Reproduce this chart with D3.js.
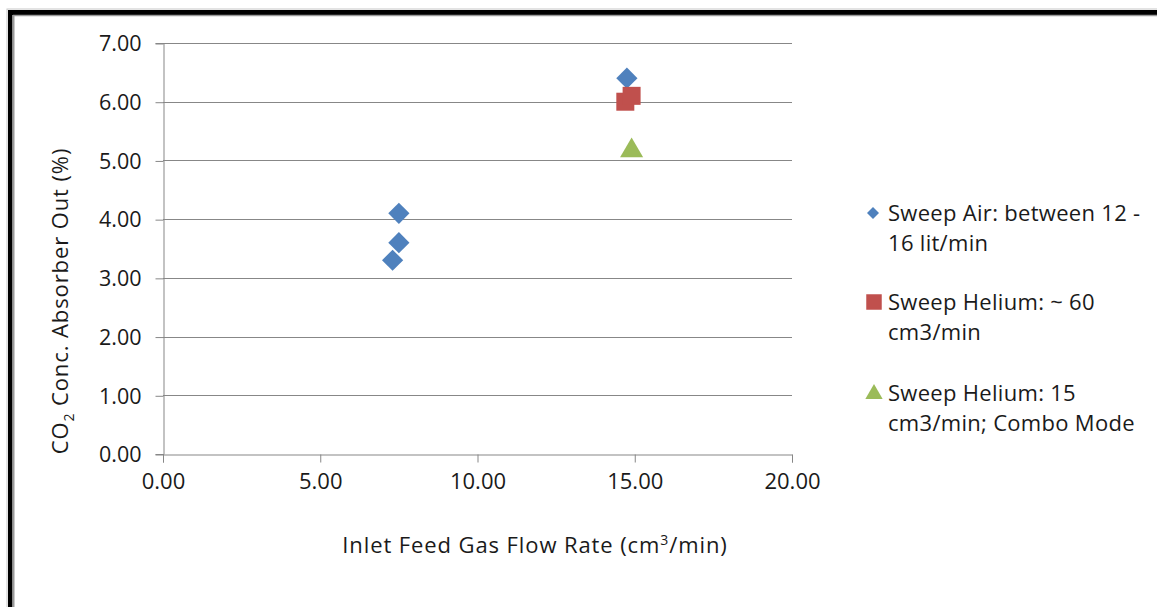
<!DOCTYPE html>
<html>
<head>
<meta charset="utf-8">
<script src="https://cdn.jsdelivr.net/npm/d3@7"></script>
<style>
  html, body { margin: 0; padding: 0; background: #fff; }
  svg { display: block; }
  text { font-family: "Open Sans", sans-serif; fill: #1a1a1a; }
</style>
</head>
<body>
<div id="chart"></div>
<script>
// --- data ---
const airX = [7.5, 7.5, 7.3, 14.75]
const airY = [4.1, 3.6, 3.3, 6.4]
const heliumX = [14.7, 14.9]
const heliumY = [6.0, 6.1]
const comboX = [14.9]
const comboY = [5.2]

const xTicks = [0, 5, 10, 15, 20]
const yTicks = [0, 1, 2, 3, 4, 5, 6, 7]

const seriesNames = [
  ['Sweep Air: between 12 -', '16 lit/min'],
  ['Sweep Helium: ~ 60', 'cm3/min'],
  ['Sweep Helium: 15', 'cm3/min; Combo Mode']
]
const seriesColors = ['#4F81BD', '#C0504D', '#9BBB59']

const width = 1157
const height = 607
const margin = {left: 163, right: 365, top: 43, bottom: 153}

const svg = d3.select('#chart').append('svg')
  .attr('width', width)
  .attr('height', height)

// --- frame (top and left border only) ---
svg.append('rect').attr('x', 7).attr('y', 9).attr('width', width).attr('height', height)
  .attr('fill', 'none').attr('stroke', '#c8c8c8').attr('stroke-width', 1)
svg.append('rect').attr('x', 8).attr('y', 10).attr('width', 4.5).attr('height', height)
  .attr('fill', '#000')
svg.append('rect').attr('x', 8).attr('y', 10).attr('width', width).attr('height', 5)
  .attr('fill', '#000')
svg.append('line').attr('x1', 13.5).attr('x2', 13.5).attr('y1', 15).attr('y2', height)
  .attr('stroke', '#9a9a9a').attr('stroke-width', 2)
svg.append('line').attr('x1', 13).attr('x2', width).attr('y1', 15.5).attr('y2', 15.5)
  .attr('stroke', '#9a9a9a').attr('stroke-width', 1.5)

const x = d3.scaleLinear().domain([0, 20]).range([margin.left, width - margin.right])
const y = d3.scaleLinear().domain([0, 7]).range([height - margin.bottom, margin.top])

const gridColor = '#878787'

// --- gridlines ---
svg.append('g')
  .selectAll('line')
  .data(yTicks.filter(d => d > 0))
  .join('line')
    .attr('x1', x(0)).attr('x2', x(20))
    .attr('y1', d => Math.round(y(d)) + 0.5).attr('y2', d => Math.round(y(d)) + 0.5)
    .attr('stroke', gridColor).attr('stroke-width', 1)

// --- axes ---
const yAxis = svg.append('g')
  .attr('transform', `translate(${Math.round(x(0)) + 0.5},0)`)
  .call(d3.axisLeft(y).tickValues(yTicks).tickSize(8).tickPadding(14).tickFormat(d3.format('.2f')))
yAxis.select('.domain').attr('stroke', gridColor)
yAxis.selectAll('.tick line').attr('stroke', gridColor)
  .attr('transform', 'translate(0,0.5)')
yAxis.selectAll('.tick text')
  .style('font-size', '21.5px').style('font-family', '"Open Sans", sans-serif').attr('fill', '#1a1a1a')
  .attr('dy', '0.36em')

const xAxis = svg.append('g')
  .attr('transform', `translate(0,${Math.round(y(0)) + 0.5})`)
  .call(d3.axisBottom(x).tickValues(xTicks).tickSize(8).tickPadding(11).tickFormat(d3.format('.2f')))
xAxis.select('.domain').attr('stroke', gridColor)
xAxis.selectAll('.tick line').attr('stroke', gridColor)
xAxis.selectAll('.tick text')
  .style('font-size', '22px').style('font-family', '"Open Sans", sans-serif').attr('fill', '#1a1a1a')

// --- axis titles ---
svg.append('text')
  .attr('x', 535).attr('y', 553)
  .attr('text-anchor', 'middle')
  .style('font-size', '22px')
  .style('letter-spacing', '0.9px')
  .html('Inlet Feed Gas Flow Rate (cm<tspan dy="-8" font-size="14">3</tspan><tspan dy="8">/min)</tspan>')

svg.append('text')
  .attr('transform', 'translate(68,301) rotate(-90)')
  .attr('text-anchor', 'middle')
  .style('font-size', '22px')
  .style('letter-spacing', '0.9px')
  .html('CO<tspan dy="6" font-size="14">2</tspan><tspan dy="-6">  Conc. Absorber Out (%)</tspan>')

// --- markers ---
const diamond = d3.symbol().type(d3.symbolSquare).size(225)
const square = d3.symbol().type(d3.symbolSquare).size(324)
const triangle = d3.symbol().type(d3.symbolTriangle).size(230)

svg.append('g')
  .selectAll('path')
  .data(d3.zip(airX, airY))
  .join('path')
    .attr('d', diamond)
    .attr('transform', d => `translate(${x(d[0])},${y(d[1])}) rotate(45)`)
    .attr('fill', seriesColors[0])

svg.append('g')
  .selectAll('path')
  .data(d3.zip(heliumX, heliumY))
  .join('path')
    .attr('d', square)
    .attr('transform', d => `translate(${x(d[0])},${y(d[1])})`)
    .attr('fill', seriesColors[1])

svg.append('g')
  .selectAll('path')
  .data(d3.zip(comboX, comboY))
  .join('path')
    .attr('d', triangle)
    .attr('transform', d => `translate(${x(d[0])},${y(d[1]) + 2})`)
    .attr('fill', seriesColors[2])

// --- legend ---
const legendTop = [213, 302, 393]
const legendSymbols = [
  d3.symbol().type(d3.symbolSquare).size(72),
  d3.symbol().type(d3.symbolSquare).size(240),
  d3.symbol().type(d3.symbolTriangle).size(130)
]
const legend = svg.append('g')
  .selectAll('g')
  .data(seriesNames)
  .join('g')
    .attr('transform', (d, i) => `translate(0,${legendTop[i]})`)

legend.append('path')
  .attr('d', (d, i) => legendSymbols[i]())
  .attr('transform', (d, i) => i === 0 ? 'translate(873,0) rotate(45)' : (i === 1 ? 'translate(874,0)' : 'translate(874,1)'))
  .attr('fill', (d, i) => seriesColors[i])

legend.selectAll('text')
  .data(d => d)
  .join('text')
    .attr('x', 888)
    .attr('y', (d, j) => j * 30)
    .attr('dy', '0.36em')
    .style('font-size', '22px')
    .style('letter-spacing', '0.3px')
    .text(d => d)
</script>
</body>
</html>
